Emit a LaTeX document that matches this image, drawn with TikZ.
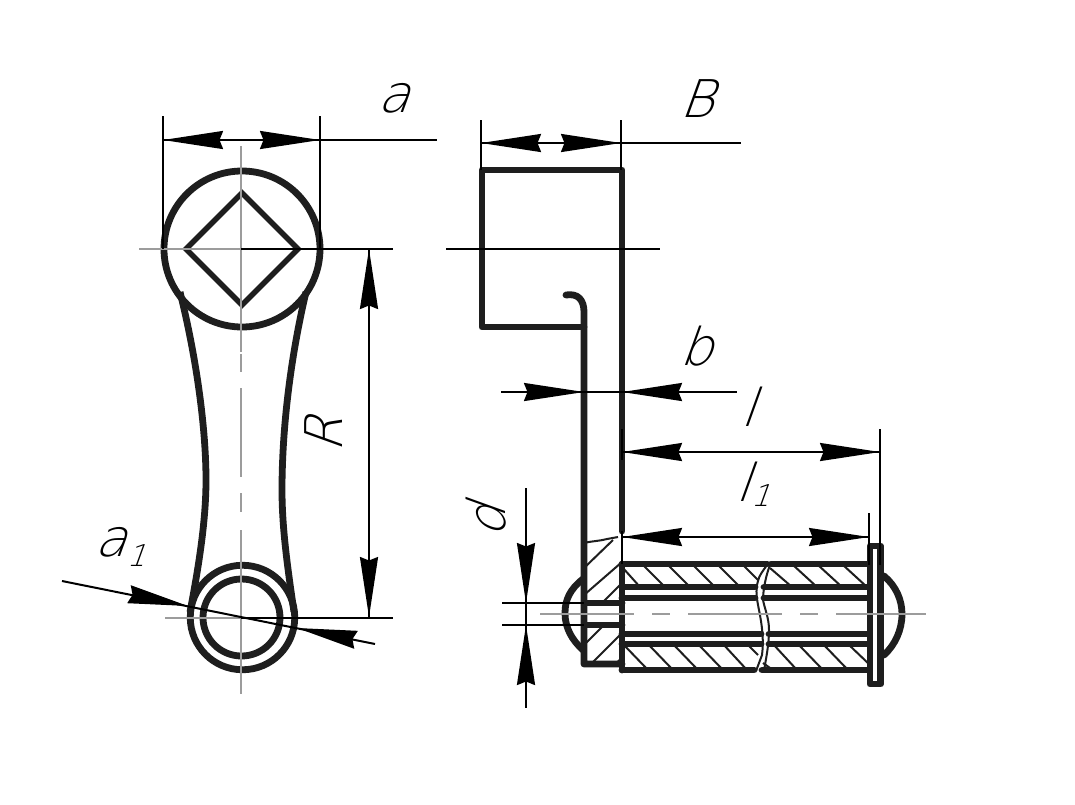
\documentclass[tikz,border=0pt]{standalone}
\usepackage{fontspec}
\newfontfamily\dimfont[FakeSlant=0.36]{DejaVu Sans ExtraLight}
\usetikzlibrary{arrows.meta, positioning}
\definecolor{partcol}{HTML}{1E1E1E}
\definecolor{axiscol}{HTML}{9C9C9C}
\tikzset{
    part/.style={draw=partcol, line width=6.8pt, line join=round, line cap=round},
    thin hatch/.style={draw=partcol, line width=2pt},
    axis/.style={draw=axiscol, line width=2pt},
    dimline/.style={draw=black, line width=2pt},
    dimarrow/.style={draw=black, line width=2pt, -{Stealth[length=60pt, width=18pt, inset=3.5pt]}},
    dimlabel/.style={font=\dimfont\fontsize{52}{52}\selectfont, inner sep=0pt},
    sublabel/.style={font=\dimfont\fontsize{30}{30}\selectfont, inner sep=0pt}
}
\begin{document}
\begin{tikzpicture}[x=1pt, y=-1pt]
    \useasboundingbox[fill=white] (0,0) rectangle (1075,804);

    \coordinate (bigc) at (242,249);
    \coordinate (smallc) at (242.5,617.5);

    \draw[part] (bigc) circle (78);
    \draw[part, line width=5.5pt, line join=miter] (242,193) -- (298,249) -- (242,305) -- (186,249) -- cycle;
    \draw[part] (smallc) circle (52.25);
    \draw[part] (241.5,617.5) circle (38.5);
    \draw[part, line cap=butt] (180,292) .. controls (197,360) and (206,430) .. (206,480) .. controls (206,520) and (199,565) .. (190,612);
    \draw[part, line cap=butt] (306,292) .. controls (290,360) and (282,430) .. (282,490) .. controls (282,530) and (288,570) .. (294,612);

    \draw[part] (584,327) -- (482,327) -- (482,170) -- (622,170) -- (622,531);
    \draw[part] (566,295) .. controls (578,293) and (584,300) .. (584,312) -- (584,664) -- (622,664);
    \draw[part] (622,564) -- (622,670);
    \draw[part] (584,603) -- (622,603);
    \draw[part] (584,625) -- (622,625);
    \draw[part] (622,564) -- (767,564);
    \draw[part] (771,564) -- (868,564);
    \draw[part] (622,587) -- (755,587);
    \draw[part] (764,587) -- (868,587);
    \draw[part] (622,598) -- (755,598);
    \draw[part] (764,598) -- (868,598);
    \draw[part] (622,634) -- (761,634);
    \draw[part] (769,634) -- (868,634);
    \draw[part] (622,644) -- (761,644);
    \draw[part] (769,644) -- (868,644);
    \draw[part] (622,670) -- (754,670);
    \draw[part] (762,670) -- (868,670);
    \draw[part] (870,546) rectangle (880.5,684);
    \draw[part] (583,579) .. controls (570,589) and (565,600) .. (565,613) .. controls (565,628) and (572,640) .. (583,650);
    \draw[part] (884,576) .. controls (896,586) and (902,600) .. (902,614) .. controls (902,630) and (895,645) .. (884,655);

    \draw[thin hatch] (623,568) -- (640,587) (643,565) -- (665,587) (668,565) -- (690,587) (693,565) -- (715,587) (718,565) -- (740,587) (743,565) -- (758,580);
    \draw[thin hatch] (770,568) -- (792,587) (793,565) -- (817,587) (818,565) -- (842,587) (843,565) -- (867,587);
    \draw[thin hatch] (623,644) -- (648,670) (648,644) -- (673,670) (673,644) -- (698,670) (698,644) -- (723,670) (723,644) -- (747,670) (748,645) -- (758,655);
    \draw[thin hatch] (773,644) -- (797,670) (798,644) -- (823,670) (823,644) -- (848,670) (848,644) -- (870,665) (763,663) -- (773,670);
    \draw[thin hatch] (584,568) -- (613,540) (584,595) -- (622,562) (602,603) -- (622,583) (584,645) -- (603,626) (591,664) -- (622,633) (615,664) -- (622,658);
    \draw[thin hatch] (584,543) .. controls (592,541) and (600,541) .. (607,539) -- (618,537);
    \draw[thin hatch] (767,565) .. controls (762,572) and (759,576) .. (758,581) .. controls (755,590) and (757,600) .. (759,610) .. controls (762,625) and (764,640) .. (762,655) -- (756,671);
    \draw[thin hatch] (770,565) .. controls (766,575) and (763,590) .. (763,600) .. controls (765,610) and (769,618) .. (769,630) .. controls (769,645) and (766,658) .. (764,671);

    \path[axis] (241,146) edge (241,352) (241,354) edge (241,372) (241,388) edge (241,477) (241,493) edge (241,512) (241,530) edge (241,694);
    \draw[axis] (139,249) -- (241,249);
    \draw[axis] (165,617.5) -- (241,617.5);
    \draw[axis, dash pattern=on 94pt off 18pt on 18pt off 18pt] (540,614) -- (926,614);

    \coordinate (atip) at (163,140);
    \coordinate (aend) at (437,140);
    \coordinate (atail) at (320,140);
    \draw[dimline] (163,116) -- (163,249);
    \draw[dimline] (320,116) -- (320,249);
    \draw[dimline] (atail) -- (aend);
    \draw[dimline] (atip) -- (atail);
    \draw[dimarrow] (223,140) -- (atip);
    \draw[dimarrow] (260,140) -- (atail);
    \node[dimlabel] (alabel) at (393,98) {a};

    \draw[dimline] (241,249) -- (393,249);
    \draw[dimline] (241,617.5) -- (393,617.5);
    \coordinate (rtop) at (369,249);
    \coordinate (rbot) at (369,617);
    \draw[dimline] (rtop) -- (rbot);
    \draw[dimarrow] (369,309) -- (rtop);
    \draw[dimarrow] (369,557) -- (rbot);
    \node[dimlabel, rotate=90] (rlabel) at (324,435) {R};

    \coordinate (aoneleft) at (62,581);
    \coordinate (aoneright) at (375,644);
    \draw[dimline] (aoneleft) -- (aoneright);
    \draw[dimarrow] (133,595) -- (188,606);
    \draw[dimarrow] (352,639) -- (297,628);
    \node[dimlabel] (aonelabel) at (110,542) {a};
    \node[sublabel, right=0pt of aonelabel, yshift=-14pt] (aonesub) {1};

    \draw[dimline] (481,120) -- (481,170);
    \draw[dimline] (621,120) -- (621,170);
    \draw[dimline] (481,143) -- (741,143);
    \draw[dimarrow] (541,143) -- (481,143);
    \draw[dimarrow] (561,143) -- (621,143);
    \node[dimlabel] (blabel) at (697,99) {B};
    \draw[dimline] (446,249) -- (660,249);

    \draw[dimline] (501,392) -- (737,392);
    \draw[dimarrow] (525,392) -- (584,392);
    \draw[dimarrow] (681,392) -- (622,392);
    \node[dimlabel] (smallb) at (696,346) {b};

    \draw[dimline] (622,429) -- (622,460);
    \draw[dimline] (880,429) -- (880,565);
    \draw[dimline] (622,452) -- (880,452);
    \draw[dimarrow] (681,452) -- (622,452);
    \draw[dimarrow] (821,452) -- (880,452);
    \node[dimlabel] (llabel) at (748,407) {l};

    \draw[dimline] (622,531) -- (622,564);
    \draw[dimline] (869,513) -- (869,565);
    \draw[dimline] (622,537) -- (869,537);
    \draw[dimarrow] (681,537) -- (622,537);
    \draw[dimarrow] (810,537) -- (869,537);
    \node[dimlabel] (lonelabel) at (743,482) {l};
    \node[sublabel, right=0pt of lonelabel, yshift=-14pt] (lonesub) {1};

    \draw[dimline] (502,603) -- (584,603);
    \draw[dimline] (502,625) -- (584,625);
    \draw[dimline] (526,488) -- (526,708);
    \draw[dimarrow] (526,543) -- (526,603);
    \draw[dimarrow] (526,685) -- (526,625);
    \node[dimlabel, rotate=90] (dlabel) at (486,522) {d};
\end{tikzpicture}
\end{document}
